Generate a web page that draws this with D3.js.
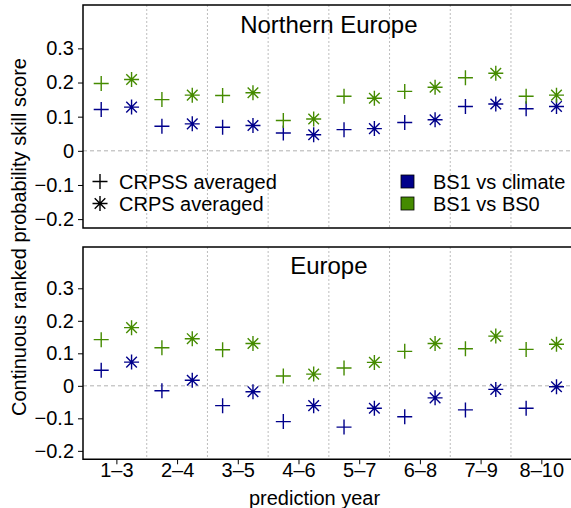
<!DOCTYPE html>
<html><head><meta charset="utf-8">
<script src="https://cdn.jsdelivr.net/npm/d3@7"></script>
<style>body{margin:0;background:#fff}svg{display:block;font-family:"Liberation Sans",Arial,sans-serif}</style>
</head><body>
<svg id="chart" width="571" height="508"></svg>
<script>
const categories = ["1–3","2–4","3–5","4–6","5–7","6–8","7–9","8–10"];
const yTicks = [-0.2,-0.1,0,0.1,0.2,0.3];
const yTickLabels = ["−0.2","−0.1","0","0.1","0.2","0.3"];
const seriesNames = ["BS1 vs climate","BS1 vs BS0"];
const seriesColors = ["#00008B","#458B00"];
const markerNames = ["CRPSS averaged","CRPS averaged"];

// Northern Europe
const neCrpssClim = [0.121, 0.072, 0.069, 0.052, 0.062, 0.083, 0.130, 0.123];
const neCrpssBs0  = [0.197, 0.150, 0.162, 0.089, 0.160, 0.174, 0.214, 0.160];
const neCrpsClim  = [0.128, 0.079, 0.074, 0.047, 0.065, 0.091, 0.137, 0.130];
const neCrpsBs0   = [0.209, 0.163, 0.170, 0.093, 0.154, 0.186, 0.227, 0.163];
// Europe
const euCrpssClim = [0.048, -0.015, -0.061, -0.110, -0.127, -0.095, -0.074, -0.069];
const euCrpssBs0  = [0.142, 0.117, 0.111, 0.030, 0.055, 0.106, 0.114, 0.112];
const euCrpsClim  = [0.073, 0.017, -0.018, -0.061, -0.069, -0.037, -0.011, -0.003];
const euCrpsBs0   = [0.179, 0.145, 0.130, 0.036, 0.072, 0.130, 0.153, 0.128];

const panels = [
  {title:"Northern Europe", top:5, bottom:228, titleY:33,
   plus:[neCrpssClim, neCrpssBs0], star:[neCrpsClim, neCrpsBs0], legend:true, xaxis:false},
  {title:"Europe", top:247, bottom:459.3, titleY:274,
   plus:[euCrpssClim, euCrpssBs0], star:[euCrpsClim, euCrpsBs0], legend:false, xaxis:true}
];

const svg = d3.select("#chart");
const left = 83, right = 574.7;
const x = d3.scaleLinear().domain([0.45, 8.55]).range([left, right]);
const yDomain = [-0.226, 0.427];
const R = 7.5;

function plusPath(r){ return `M${-r},0H${r}M0,${-r}V${r}`; }
function starPath(r){ const d = r/Math.SQRT2; return `M${-r},0H${r}M0,${-r}V${r}M${-d},${-d}L${d},${d}M${-d},${d}L${d},${-d}`; }

panels.forEach(p => {
  const y = d3.scaleLinear().domain(yDomain).range([p.bottom, p.top]);
  const g = svg.append("g");
  // separators
  g.selectAll("line.sep").data(d3.range(1, categories.length)).join("line")
    .attr("x1", d => x(d + 0.5)).attr("x2", d => x(d + 0.5))
    .attr("y1", p.top).attr("y2", p.bottom)
    .attr("stroke", "#bdbdbd").attr("stroke-width", 1).attr("stroke-dasharray", "2,2");
  // zero line
  g.append("line").attr("x1", left).attr("x2", right).attr("y1", y(0)).attr("y2", y(0))
    .attr("stroke", "#b0b0b0").attr("stroke-width", 1).attr("stroke-dasharray", "4,3");
  // y axis
  const ya = g.append("g").attr("transform", `translate(${left},0)`)
    .call(d3.axisLeft(y).tickValues(yTicks).tickSize(5).tickPadding(4)
      .tickFormat((d, i) => yTickLabels[i]));
  ya.select(".domain").remove();
  ya.selectAll("text").attr("font-size", 20).attr("fill", "#000").attr("font-family", null);
  ya.selectAll("line").attr("stroke", "#000");
  // frame
  g.append("path").attr("d", `M${right+2},${p.top}H${left}V${p.bottom}H${right+2}`)
    .attr("fill", "none").attr("stroke", "#000").attr("stroke-width", 1.5);
  // title
  g.append("text").attr("x", (left + right) / 2).attr("y", p.titleY)
    .attr("text-anchor", "middle").attr("font-size", 24).text(p.title);
  // markers
  [0, 1].forEach(s => {
    g.selectAll(null).data(p.plus[s]).join("path")
      .attr("transform", (d, i) => `translate(${x(i + 1 - 0.25)},${y(d)})`)
      .attr("d", plusPath(R)).attr("stroke", seriesColors[s]).attr("stroke-width", 1.4).attr("fill", "none");
    g.selectAll(null).data(p.star[s]).join("path")
      .attr("transform", (d, i) => `translate(${x(i + 1 + 0.25)},${y(d)})`)
      .attr("d", starPath(R)).attr("stroke", seriesColors[s]).attr("stroke-width", 1.4).attr("fill", "none");
  });
  if (p.xaxis) {
    const xa = g.append("g").attr("transform", `translate(0,${p.bottom})`)
      .call(d3.axisBottom(x).tickValues(d3.range(1, categories.length + 1)).tickSize(5).tickPadding(-1)
        .tickFormat((d, i) => categories[i]));
    xa.select(".domain").remove();
    xa.selectAll("text").attr("font-size", 20).attr("fill", "#000").attr("font-family", null);
    xa.selectAll("line").attr("stroke", "#000");
  }
  if (p.legend) {
    const lg = g.append("g");
    const rows = [181.5, 203.5];
    lg.append("path").attr("transform", `translate(100,${rows[0]})`).attr("d", plusPath(R))
      .attr("stroke", "#000").attr("stroke-width", 1.4);
    lg.append("path").attr("transform", `translate(100,${rows[1]})`).attr("d", starPath(R))
      .attr("stroke", "#000").attr("stroke-width", 1.4);
    markerNames.forEach((t, i) => lg.append("text").attr("x", 119).attr("y", rows[i]).attr("dy", "0.35em")
      .attr("font-size", 20).text(t));
    seriesNames.forEach((t, i) => {
      lg.append("rect").attr("x", 401).attr("y", rows[i] - 6.5).attr("width", 13).attr("height", 13)
        .attr("fill", seriesColors[i]).attr("stroke", "#000").attr("stroke-width", 0.8);
      lg.append("text").attr("x", 433).attr("y", rows[i]).attr("dy", "0.35em").attr("font-size", 20).text(t);
    });
  }
});

svg.append("text").attr("transform", "translate(26,237) rotate(-90)")
  .attr("text-anchor", "middle").attr("font-size", 20).text("Continuous ranked probability skill score");
svg.append("text").attr("x", 314.5).attr("y", 505).attr("text-anchor", "middle")
  .attr("font-size", 20).text("prediction year");
</script>
</body></html>
